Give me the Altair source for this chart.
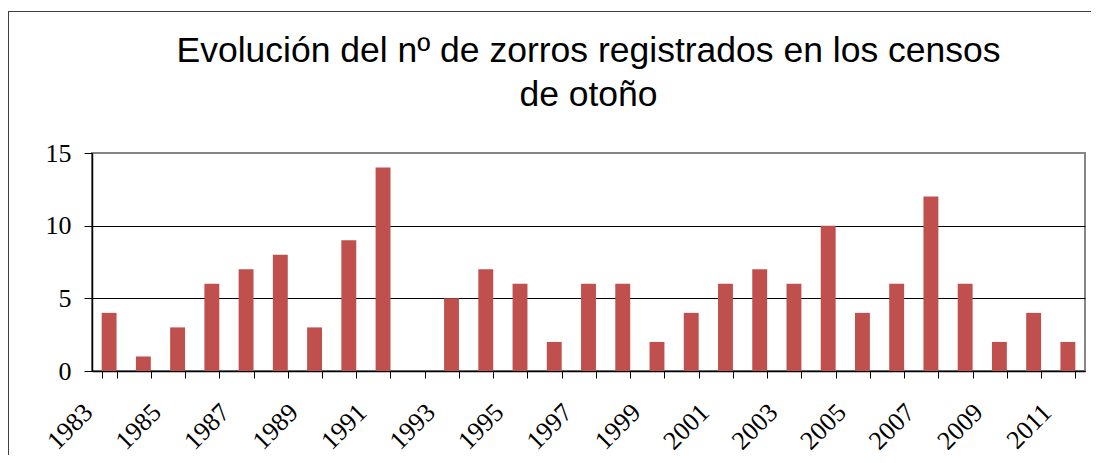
import altair as alt
import pandas as pd

years = [str(y) for y in range(1983, 2012)]
foxes = [4, 1, 3, 6, 7, 8, 3, 9, 14, 0, 5, 7, 6, 2, 6, 6, 2, 4, 6, 7, 6, 10, 4, 6, 12, 6, 2, 4, 2]
y_ticks = [0, 5, 10, 15]
title_lines = ["Evolución del nº de zorros registrados en los censos", "de otoño"]

df = pd.DataFrame({"year": years, "foxes": foxes})

W, H = 993, 218
one = pd.DataFrame({"a": [0]})

border_top = alt.Chart(one).mark_rule(stroke="#404040", strokeWidth=1).encode(
    x=alt.value(-84), x2=alt.value(W + 10), y=alt.value(-141.5)
)
border_left = alt.Chart(one).mark_rule(stroke="#404040", strokeWidth=1).encode(
    x=alt.value(-83.5), y=alt.value(-142), y2=alt.value(H + 90)
)

bars = alt.Chart(df).mark_bar(color="#C0504D").encode(
    x=alt.X(
        "year:N", sort=None, title=None,
        scale=alt.Scale(paddingInner=0.565, paddingOuter=0.2825),
        axis=alt.Axis(
            labelAngle=-45, labelAlign="right", labelBaseline="middle",
            labelExpr="(toNumber(datum.value) - 1983) % 2 == 0 ? datum.label : ''",
            tickBand="extent", tickSize=7, tickColor="black", tickWidth=1,
            domainColor="black", domainWidth=1.5,
            labelFont="Liberation Serif", labelFontSize=26, labelColor="black",
            labelPadding=30, labelOffset=-21, labelOverlap=False, labelBound=False,
        ),
    ),
    y=alt.Y(
        "foxes:Q", title=None,
        scale=alt.Scale(domain=[0, 15], nice=False),
        axis=alt.Axis(
            values=y_ticks, tickSize=8, tickColor="black", domainColor="black",
            domainWidth=1.5,
            labelFont="Liberation Serif", labelFontSize=26, labelColor="black",
            labelPadding=13,
            gridColor={"condition": {"test": "datum.value == 15", "value": "#868686"}, "value": "black"},
            gridWidth=1,
        ),
    ),
)

chart = alt.layer(border_top, border_left, bars).properties(
    width=W, height=H,
    title=alt.TitleParams(
        text=title_lines, font="Liberation Sans", fontSize=35.5, fontWeight="normal",
        color="black", lineHeight=44, anchor="middle", offset=-103,
    ),
    autosize=alt.AutoSizeParams(type="none"),
    padding={"left": 84, "top": 145, "right": 6, "bottom": 84},
).configure_view(stroke="#868686", strokeWidth=2)

chart.save("out.html", embed_options={"renderer": "svg", "actions": False})
